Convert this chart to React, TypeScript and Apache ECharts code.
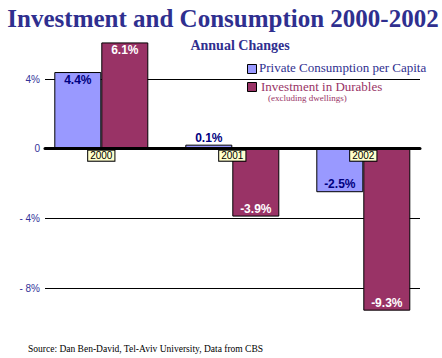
import React, { useEffect, useRef } from "react";
import * as echarts from "echarts";

const categories = ["2000", "2001", "2002"];
const consumption = [4.4, 0.1, -2.5];
const durables = [6.1, -3.9, -9.3];
const yTicks = [-8, -4, 0, 4];

const SERIF = "'Liberation Serif', 'Times New Roman', serif";
const SANS = "'Liberation Sans', Arial, sans-serif";
const PX = 209 / 12; // pixels per percent

export default function App() {
  const ref = useRef<HTMLDivElement>(null);
  useEffect(() => {
    const chart = echarts.init(ref.current!, null, { renderer: "svg" });
    const fmt = (v: number) => v.toFixed(1) + "%";
    const blueData = consumption.map((v) => ({
      value: v,
      label: {
        position: v >= 0 ? (v < 1 ? "top" : "insideTop") : "insideBottom",
        distance: v < 1 && v >= 0 ? 1 : 2,
      },
    }));
    const redData = durables.map((v) => ({
      value: v,
      label: { position: v >= 0 ? "insideTop" : "insideBottom", distance: 2 },
    }));
    chart.setOption({
      animation: false,
      backgroundColor: "#ffffff",
      title: [
        {
          text: "Investment and Consumption 2000-2002",
          left: 218,
          textAlign: "center",
          top: 1,
          textStyle: { fontFamily: SERIF, fontWeight: "bold", fontSize: 25, color: "#2f2f8f" },
        },
        {
          text: "Annual Changes",
          left: 235,
          textAlign: "center",
          top: 33,
          textStyle: { fontFamily: SERIF, fontWeight: "bold", fontSize: 14, color: "#2f2f8f" },
        },
        {
          text: "Source: Dan Ben-David, Tel-Aviv University, Data from CBS",
          left: 28,
          top: 344,
          padding: 0,
          textStyle: { fontFamily: SERIF, fontWeight: "normal", fontSize: 9.5, color: "#000000" },
        },
      ],
      grid: [
        { left: 45, right: 22, top: 79, height: 209, outerBoundsMode: "none", containLabel: false },
        { left: 35.8, width: 393, top: 79 - 4 * PX, height: 20 * PX, outerBoundsMode: "none", containLabel: false },
      ],
      xAxis: [
        {
          gridIndex: 0,
          type: "value",
          min: 0,
          max: 1,
          z: 5,
          axisLine: { show: true, onZero: true, lineStyle: { color: "#000", width: 3 } },
          axisTick: { show: false },
          axisLabel: { show: false },
          splitLine: { show: false },
        },
        {
          gridIndex: 1,
          type: "category",
          data: categories,
          z: 10,
          position: "bottom",
          offset: -12 * PX,
          axisLine: { show: false, onZero: false },
          axisTick: { show: false },
          axisLabel: {
            margin: 2,
            fontFamily: SANS,
            fontSize: 10,
            color: "#000",
            backgroundColor: "#ffffcc",
            borderColor: "#000",
            borderWidth: 1,
            padding: [0, 2, 0, 2],
          },
        },
      ],
      yAxis: [
        {
          gridIndex: 0,
          type: "value",
          min: yTicks[0],
          max: yTicks[yTicks.length - 1],
          interval: 4,
          z: 0,
          axisLine: { show: false },
          axisTick: { show: false },
          axisLabel: {
            margin: 5,
            fontFamily: SANS,
            fontSize: 10,
            color: "#333399",
            formatter: (v: number) => (v === 0 ? "0" : v < 0 ? "- " + -v + "%" : v + "%"),
          },
          splitLine: { show: true, lineStyle: { color: "#000", width: 1 } },
        },
        {
          gridIndex: 1,
          type: "value",
          min: -12,
          max: 8,
          interval: 4,
          axisLine: { show: false },
          axisTick: { show: false },
          axisLabel: { show: false },
          splitLine: { show: false },
        },
      ],
      graphic: [
        { type: "rect", left: 247, top: 64, shape: { width: 9, height: 9 }, style: { fill: "#9999ff", stroke: "#000", lineWidth: 1 } },
        {
          type: "text",
          left: 259,
          top: 61,
          style: { text: "Private Consumption per Capita", font: `13px ${SERIF}`, fill: "#2f2f8f" },
        },
        { type: "rect", left: 247, top: 82, shape: { width: 9, height: 9 }, style: { fill: "#993366", stroke: "#000", lineWidth: 1 } },
        {
          type: "text",
          left: 261,
          top: 80,
          style: { text: "Investment in Durables", font: `13px ${SERIF}`, fill: "#993366" },
        },
        {
          type: "text",
          left: 268,
          top: 93,
          style: { text: "(excluding dwellings)", font: `9px ${SERIF}`, fill: "#993366" },
        },
      ],
      series: [
        {
          name: "Private Consumption per Capita",
          type: "bar",
          xAxisIndex: 1,
          yAxisIndex: 1,
          data: blueData,
          barWidth: 47,
          barGap: "0%",
          barMinHeight: 4,
          itemStyle: { color: "#9999ff", borderColor: "#000", borderWidth: 1 },
          label: {
            show: true,
            formatter: (p: any) => fmt(p.value),
            fontFamily: SANS,
            fontWeight: "bold",
            fontSize: 12,
            color: "#000080",
          },
        },
        {
          name: "Investment in Durables",
          type: "bar",
          xAxisIndex: 1,
          yAxisIndex: 1,
          data: redData,
          barWidth: 47,
          barGap: "0%",
          itemStyle: { color: "#993366", borderColor: "#000", borderWidth: 1 },
          label: {
            show: true,
            formatter: (p: any) => fmt(p.value),
            fontFamily: SANS,
            fontWeight: "bold",
            fontSize: 12,
            color: "#ffffff",
          },
        },
      ],
    });
    return () => chart.dispose();
  }, []);
  return <div ref={ref} style={{ width: 442, height: 358, position: "absolute", left: 0, top: 0 }} />;
}
